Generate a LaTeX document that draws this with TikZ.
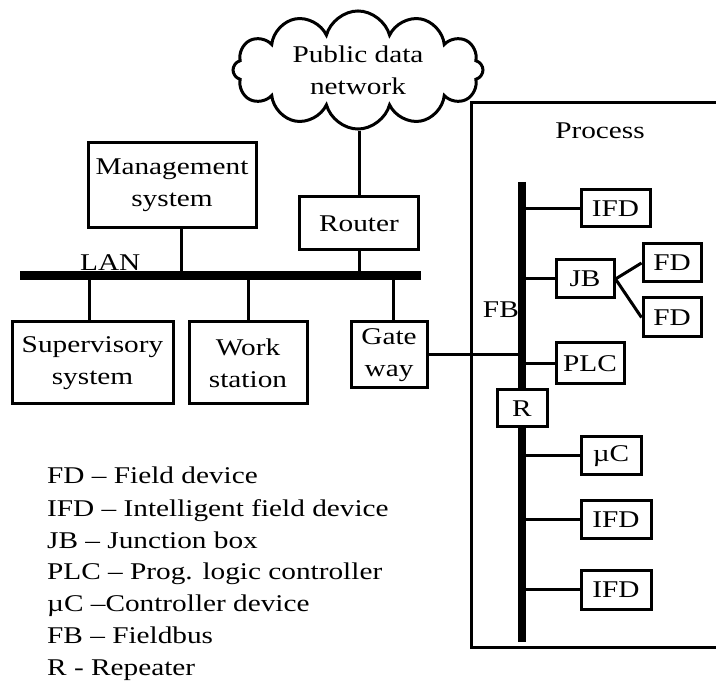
\documentclass[tikz,border=0pt]{standalone}
\usepackage{fontspec}
\setmainfont{Liberation Serif}[FakeStretch=1.22]
\usetikzlibrary{shapes.symbols}
\begin{document}
\begin{tikzpicture}[x=1pt, y=-1pt,
  every node/.style={font=\fontsize{24}{32}\selectfont},
  box/.style={draw, line width=3pt, inner sep=0pt, align=center},
  link/.style={line width=3pt},
  bus/.style={line width=9pt, line cap=butt},
  legend/.style={anchor=base west, inner sep=0pt}]
\useasboundingbox (0,0) rectangle (716,687);

% --- office level ---
\node[cloud, draw, line width=3pt, cloud puffs=12, aspect=2.2,
      minimum width=250, minimum height=115, inner sep=0pt, align=center]
      (pdn) at (358,70) {Public data\\network};
\node[box, minimum width=168, minimum height=85] (mgmt) at (172,185.5) {Management\\system};
\node[box, minimum width=119, minimum height=53] (router) at (359,223.5) {Router};
\node[box, minimum width=161, minimum height=82] (sup) at (92.5,363) {Supervisory\\system};
\node[box, minimum width=118, minimum height=82] (ws) at (248,363) {Work\\station};
\node[box, minimum width=76, minimum height=66] (gw) at (389,355) {Gate\\way};

% LAN backbone
\coordinate (lanL) at (20,275.5);
\coordinate (lanR) at (421,275.5);
\draw[bus] (lanL) -- (lanR);
\node[legend] (lan) at (80,271) {LAN};

\draw[link] (router.north) -- (router.north |- pdn.south);
\draw[link] ([xshift=9pt]mgmt.south) -- ([xshift=9pt]mgmt.south |- lanL);
\draw[link] (router.south) -- (router.south |- lanL);
\draw[link] ([xshift=-3.5pt]sup.north) -- ([xshift=-3.5pt]sup.north |- lanL);
\draw[link] (ws.north) -- (ws.north |- lanL);
\draw[link] ([xshift=4pt]gw.north) -- ([xshift=4pt]gw.north |- lanL);

% --- process level ---
\draw[line width=3pt] (722,103) -- (471,103) -- (471,647) -- (722,647);
\node (proc) at (600,131) {Process};

\coordinate (fbtop) at (522,182);
\coordinate (fbbot) at (522,642);
\node[box, minimum width=50, minimum height=37] (rep) at (522,408.5) {R};
\draw[line width=8pt, line cap=butt] (fbtop) -- (rep.north);
\draw[line width=8pt, line cap=butt] (rep.south) -- (fbbot);
\node[anchor=east, inner sep=0pt] (fb) at (519,310) {FB};

\node[box, minimum width=69, minimum height=37] (ifd1) at (615.5,208.5) {IFD};
\node[box, minimum width=58, minimum height=38] (jb) at (585,279) {JB};
\node[box, minimum width=58, minimum height=38] (fd1) at (672,263) {FD};
\node[box, minimum width=58, minimum height=39] (fd2) at (672,317.5) {FD};
\node[box, minimum width=68, minimum height=41] (plc) at (590,363.5) {PLC};
\node[box, minimum width=60, minimum height=38] (muc) at (611,456) {µC};
\node[box, minimum width=70, minimum height=37] (ifd2) at (616,519.5) {IFD};
\node[box, minimum width=70, minimum height=39] (ifd3) at (616,589.5) {IFD};

\foreach \n in {ifd1,jb,plc,muc,ifd2,ifd3}
  \draw[link] (\n.west) -- (\n.west -| fbtop);
\draw[link] (gw.east) -- (gw.east -| fbtop);
\draw[link] (jb.east) -- (fd1.west);
\draw[link] (jb.east) -- (fd2.west);

% --- abbreviations ---
\node[legend] (l1) at (47,484) {FD – Field device};
\node[legend] (l2) at (47,516) {IFD – Intelligent field device};
\node[legend] (l3) at (47,548) {JB – Junction box};
\node[legend] (l4) at (47,579.5) {PLC – Prog. logic controller};
\node[legend] (l5) at (47,611) {µC –Controller device};
\node[legend] (l6) at (47,643) {FB – Fieldbus};
\node[legend] (l7) at (47,675) {R - Repeater};
\end{tikzpicture}
\end{document}
